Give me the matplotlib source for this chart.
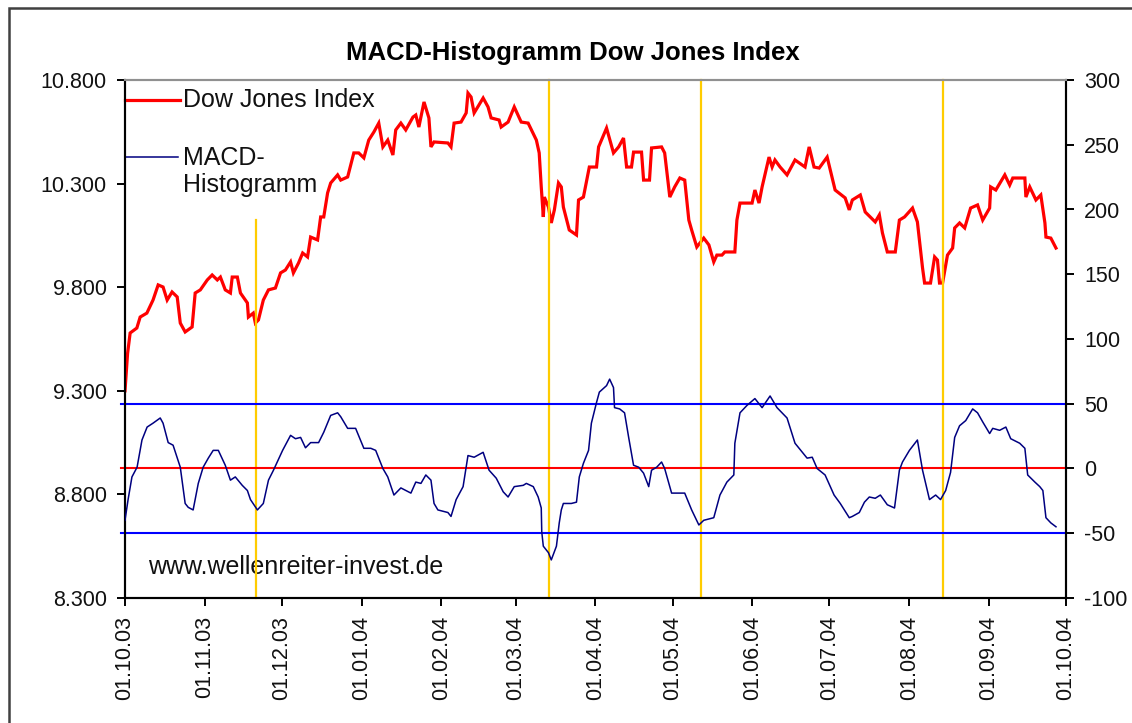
import matplotlib
matplotlib.use("Agg")
import matplotlib.pyplot as plt
import matplotlib.dates as mdates
from matplotlib.lines import Line2D
from matplotlib.patches import Rectangle
import pandas as pd

plt.rcParams['font.family'] = ['Liberation Sans', 'DejaVu Sans']

# ---------------- data ----------------
start_date = "2003-10-01"

# Dow Jones Index: days after start_date, closing level
dow_days = [0, 1, 2, 4.6, 5.9, 8.5, 10.9, 12.9, 14.8, 16.4, 18.3, 20.3, 21.5, 23.4, 26.1, 27.3,
            29.3, 32, 33.9, 35.9, 37.1, 39, 41, 41.7, 43.7, 44.9, 47.6, 48, 49.9, 50.7, 51.9,
            53.8, 55.8, 58.5, 60.5, 62.4, 64.4, 65.5, 67.5, 69.1, 71, 72.2, 74.9, 76.1, 77.3,
            78.8, 80, 82.7, 83.9, 86.6, 89, 90.9, 92.9, 94.8, 96.8, 98.7, 100.3, 102.2, 104.2,
            105.3, 107.3, 109.2, 112, 113.1, 114.3, 116.3, 118.2, 119, 120.2, 125.6, 126.8, 128,
            130.7, 132.7, 133.4, 134.6, 135.8, 139.3, 141.2, 142.4, 145.5, 146.3, 149, 151.4,
            154.1, 156.8, 160, 161.1, 161.9, 162.7, 163.1, 164.7, 165.8, 167, 168.6, 169.7,
            170.5, 172.8, 175.6, 176.4, 178.3, 180.6, 183.4, 184.2, 187.3, 190, 192, 193.9,
            195.1, 197, 197.8, 200.9, 201.7, 204, 204.8, 208.7, 209.9, 211.9, 213.8, 215.8,
            217.7, 219.3, 220.4, 222.4, 225.1, 227.1, 229, 230.2, 232.2, 233.3, 237.2, 238,
            239.2, 243.9, 245, 246.6, 247.8, 250.5, 251.7, 252.8, 254.8, 257.5, 260.6, 264.5,
            266.1, 268, 270, 273.1, 274.3, 276.2, 280.1, 281.7, 282.9, 286, 287.9, 291.8, 293.4,
            294.6, 296.5, 299.6, 301.2, 303.2, 306.3, 308.2, 310.2, 311, 313.3, 314.9, 316,
            316.8, 318, 319.9, 321.9, 322.7, 324.6, 326.6, 328.9, 331.6, 333.6, 336.3, 336.7,
            338.7, 342.2, 344.1, 345.3, 350, 350.4, 351.9, 354.3, 356.2, 357.8, 358.2, 360.1,
            362.1]
dow_values = [9300, 9480, 9579, 9603, 9656, 9675, 9738, 9811, 9801, 9738, 9777, 9753, 9627, 9584,
              9608, 9772, 9787, 9835, 9859, 9835, 9849, 9787, 9772, 9849, 9849, 9772, 9724, 9656,
              9675, 9627, 9642, 9738, 9787, 9796, 9869, 9883, 9922, 9869, 9917, 9965, 9946, 10042,
              10028, 10139, 10139, 10255, 10303, 10342, 10317, 10332, 10448, 10448, 10424, 10510,
              10549, 10592, 10477, 10510, 10438, 10559, 10592, 10559, 10621, 10631, 10573, 10694,
              10617, 10477, 10501, 10496, 10477, 10592, 10597, 10641, 10737, 10718, 10641, 10713,
              10670, 10617, 10607, 10573, 10597, 10670, 10597, 10592, 10510, 10448, 10284, 10139,
              10235, 10187, 10110, 10173, 10303, 10284, 10187, 10076, 10052, 10221, 10235, 10380,
              10380, 10477, 10568, 10448, 10477, 10520, 10380, 10380, 10452, 10452, 10317, 10317,
              10472, 10477, 10448, 10235, 10284, 10327, 10317, 10124, 10076, 9994, 10037, 10004,
              9922, 9955, 9955, 9970, 9970, 10124, 10206, 10206, 10269, 10206, 10284, 10428, 10380,
              10414, 10380, 10342, 10414, 10380, 10477, 10380, 10375, 10428, 10366, 10269, 10231,
              10173, 10221, 10245, 10163, 10115, 10149, 10062, 9970, 9970, 10124, 10139, 10182,
              10115, 9893, 9820, 9820, 9946, 9931, 9820, 9820, 9955, 9989, 10086, 10110, 10086,
              10182, 10197, 10124, 10182, 10284, 10269, 10342, 10293, 10327, 10327, 10235, 10284,
              10221, 10245, 10110, 10042, 10037, 9989]

# MACD histogram: days after start_date, value
macd_days = [0, 1.2, 2.7, 4.7, 6.6, 8.6, 10.9, 13.7, 14.8, 16.8, 18.7, 21.5, 23.4, 24.6, 26.5, 28.5,
             30.4, 32.4, 34.3, 36.3, 39, 41, 42.9, 45.6, 47.6, 48.8, 51.5, 53.8, 55.8, 57.7, 61.3,
             64.4, 66.3, 68.3, 70.2, 72.2, 75.3, 77.3, 80, 82.7, 83.9, 86.6, 89.7, 92.9, 95.6, 97.5,
             100.3, 102.2, 104.6, 107.3, 111.2, 113.1, 115.1, 117, 119, 120.2, 121.7, 125.6, 126.8,
             128.8, 131.5, 133.4, 135.8, 139.3, 141.6, 144.4, 147.1, 149, 151.4, 154.9, 156.1,
             158.8, 160.7, 161.9, 162.1, 162.7, 164.7, 165.8, 167.8, 168.9, 169.7, 170.5, 173.6,
             175.6, 176.7, 178.3, 180.3, 181.4, 183.4, 184.5, 187.3, 188.5, 190, 190.4, 192.4,
             194.3, 195.9, 197.8, 199.8, 201.7, 203.7, 204.8, 206.8, 208.7, 209.9, 212.6, 215.4,
             217.7, 220.4, 223.2, 225.1, 229, 231.4, 234.1, 236.8, 237.2, 239.2, 241.9, 245, 247.8,
             250.9, 253.6, 257.5, 260.6, 265.3, 267.3, 269.2, 272.3, 275.8, 278.2, 281.7, 282.9,
             285.6, 287.6, 289.5, 291.8, 293.8, 296.5, 299.3, 301.2, 302.4, 305.1, 308.2, 310.2,
             312.9, 315.3, 317.2, 319.2, 321.1, 322.7, 324.6, 327, 329.7, 331.6, 333.6, 336.3,
             337.5, 340.2, 342.6, 344.5, 348, 350, 351.1, 353.9, 355.8, 357, 358.2, 360.1, 362.1]
macd_values = [-40, -24, -6.5, 1, 22, 32, 35, 39, 35, 20, 18, 1, -27, -30, -32, -11.5, 1, 8, 14, 14,
               2.5, -9, -6.5, -13, -17, -24, -32, -27, -9, -1.5, 14, 25.6, 23, 24, 16, 20, 20, 28,
               41, 43, 40, 31, 31, 15.6, 15.6, 14, 0, -6.5, -20.5, -15, -19, -10.5, -11.5, -5, -9,
               -27, -32, -34, -37, -24, -14, 10, 8.7, 12.5, -1.3, -7.5, -18, -22, -14, -13, -11.5,
               -14, -22, -30.5, -49, -60, -65, -70.6, -60, -42, -32, -27, -27, -26, -6.5, 4, 14,
               35, 51, 59, 64, 69, 62.5, 47, 46, 43, 24, 2.5, 1, -3.6, -14, -1.3, 1, 5, 0, -19,
               -19, -19, -32, -43.6, -40, -38, -20.5, -10.5, -5, 19.5, 43, 48.7, 54, 47, 56, 47,
               39, 19.5, 8, 8.7, 0, -5, -20.5, -27, -38, -37, -34, -26, -22, -23, -20.5, -28,
               -30.5, -1.3, 5, 14, 22, -1.3, -24, -20.5, -24, -17, -3, 24, 33, 37, 46, 43, 36, 27,
               31, 29.5, 32, 23, 19.5, 15.6, -5, -10.5, -14, -17, -38, -42, -45]

signal_dates = ["2003-11-21", "2004-03-14", "2004-05-12", "2004-08-14"]
signal_tops = [10124, 10800, 10800, 10800]          # upper end on the index scale

macd_levels = [50, 0, -50]
macd_level_colors = ["#0000FF", "#FF0000", "#0000FF"]

left_ticks = [8300, 8800, 9300, 9800, 10300, 10800]
left_labels = ["8.300", "8.800", "9.300", "9.800", "10.300", "10.800"]
right_ticks = [-100, -50, 0, 50, 100, 150, 200, 250, 300]
month_ticks = pd.date_range("2003-10-01", "2004-10-01", freq="MS")
month_labels = [d.strftime("%d.%m.%y") for d in month_ticks]

title = "MACD-Histogramm Dow Jones Index"
watermark = "www.wellenreiter-invest.de"

# ---------------- figure ----------------
W, H = 1132, 723
fig = plt.figure(figsize=(W / 100, H / 100), dpi=100)
fig.patch.set_facecolor("white")

L, R, T, B = 125, 1066, 80, 598
ax = fig.add_axes([L / W, 1 - B / H, (R - L) / W, (B - T) / H])
ax2 = ax.twinx()

t0 = pd.Timestamp(start_date)
dow_x = t0 + pd.to_timedelta(dow_days, unit="D")
macd_x = t0 + pd.to_timedelta(macd_days, unit="D")

# reference levels for the histogram
for lvl, col in zip(macd_levels, macd_level_colors):
    ax2.axhline(lvl, xmin=-0.004, xmax=1, color=col, lw=1.5, clip_on=False, zorder=2)

ax.plot(dow_x, dow_values, color="#FF0000", lw=2.3, zorder=3, solid_joinstyle="miter")
ax2.plot(macd_x, macd_values, color="#000080", lw=1.1, zorder=3)

# yellow signal lines
for d, top in zip(signal_dates, signal_tops):
    ax.plot([pd.Timestamp(d), pd.Timestamp(d)], [8300, top], color="#FFCC00", lw=1.6,
            zorder=5, clip_on=False)

ax.set_xlim(month_ticks[0], month_ticks[-1])
ax.set_ylim(8300, 10800)
ax2.set_ylim(-100, 300)

ax.set_xticks(month_ticks)
ax.set_xticklabels(month_labels, rotation=90, va="top", ha="center")
ax.set_yticks(left_ticks)
ax.set_yticklabels(left_labels)
ax2.set_yticks(right_ticks)
ax2.set_yticklabels([str(v) for v in right_ticks])

for a in (ax, ax2):
    a.tick_params(direction="out", length=6, width=1.4, color="black",
                  labelsize=15.5, labelcolor="#111111", pad=7)
    for s in ("left", "right", "bottom"):
        a.spines[s].set_color("black")
        a.spines[s].set_linewidth(1.5)
    a.spines["top"].set_color("#909090")
    a.spines["top"].set_linewidth(1.5)
    a.set_facecolor("none")
ax.tick_params(axis="x", pad=7)

# title
fig.text(573 / W, 1 - 53 / H, title, ha="center", va="center", fontsize=18.5,
         fontweight="bold", color="black")

# legend (Excel style, entries at top-left inside plot area)
def fx(px):
    return (px - L) / (R - L)

def fy(py):
    return (B - py) / (B - T)

ax.add_line(Line2D([fx(125), fx(180)], [fy(100), fy(100)], color="#FF0000", lw=2.3,
                   transform=ax.transAxes, clip_on=False, zorder=6))
ax.text(fx(183), fy(100), "Dow Jones Index", transform=ax.transAxes, fontsize=18,
        va="center", ha="left", color="#111111")
ax.add_line(Line2D([fx(125), fx(178)], [fy(157), fy(157)], color="#000080", lw=1.1,
                   transform=ax.transAxes, clip_on=False, zorder=6))
ax.text(fx(183), fy(171.5), "MACD-\nHistogramm", transform=ax.transAxes, fontsize=18,
        va="center", ha="left", color="#111111", linespacing=1.2)

# watermark
ax.text(fx(148), fy(567), watermark, transform=ax.transAxes, fontsize=18,
        va="center", ha="left", color="#111111")

# outer chart-area frame (cropped at right and bottom)
fig.add_artist(Rectangle((8.5 / W, -0.1), 1.2, 1 - 8.5 / H + 0.1, transform=fig.transFigure,
                         fill=False, edgecolor="#404040", lw=1.8))

fig.savefig("out.png", dpi=100)
